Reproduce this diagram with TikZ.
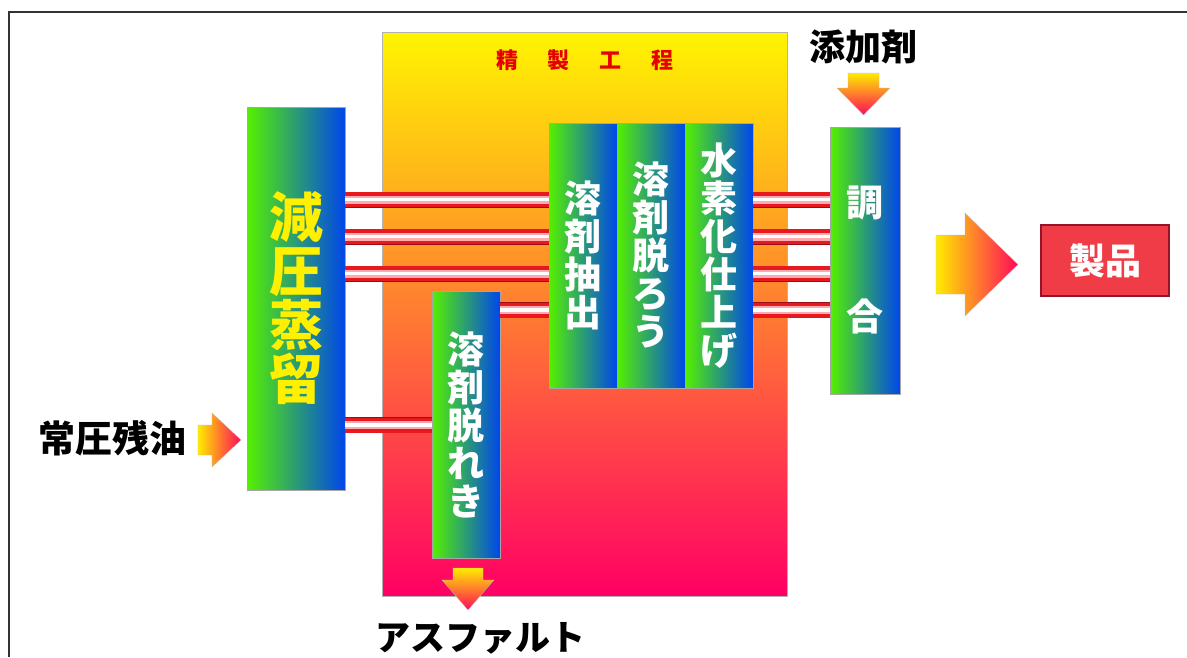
\documentclass[tikz,border=0pt]{standalone}
\usepackage{fontspec}
\newfontfamily\jp{Noto Sans CJK JP}
\definecolor{procgreen}{RGB}{85,240,0}
\definecolor{procblue}{RGB}{0,70,235}
\definecolor{bigtop}{RGB}{255,245,0}
\definecolor{bigmid}{RGB}{255,125,45}
\definecolor{bigbot}{RGB}{255,0,100}
\definecolor{pipered}{RGB}{230,25,30}
\definecolor{pipedark}{RGB}{160,10,20}
\definecolor{pipepink}{RGB}{255,170,175}
\definecolor{arrowyel}{RGB}{255,235,0}
\definecolor{arroworg}{RGB}{255,140,30}
\definecolor{arrowred}{RGB}{255,10,90}
\definecolor{titlered}{RGB}{230,0,0}
\definecolor{textyel}{RGB}{255,240,0}
\definecolor{prodred}{RGB}{240,60,70}
\definecolor{prodedge}{RGB}{150,20,40}
\begin{document}
\begin{tikzpicture}[x=1pt,y=-1pt,
  proc/.style={draw=black!35, line width=0.4pt, left color=procgreen, right color=procblue,
    inner sep=0pt, minimum width=68pt, minimum height=265pt, align=center,
    text=white, font=\jp\bfseries\fontsize{37}{38}\selectfont},
  pipe/.style={line width=15pt, draw=pipered,
    preaction={draw=pipedark, line width=16pt},
    postaction={draw=pipepink, line width=8pt},
    postaction={draw=white, line width=3.5pt}},
  blackcap/.style={text=black, font=\jp\bfseries\fontsize{37}{38}\selectfont, inner sep=0pt},
  arrowv/.style={draw=black!25, line width=0.3pt, top color=arrowyel, middle color=arroworg, bottom color=arrowred},
  arrowh/.style={draw=black!25, line width=0.3pt, left color=arrowyel, middle color=arroworg, right color=arrowred}
]
\useasboundingbox (0,0) rectangle (1187,657);
\fill[white] (0,0) rectangle (1187,657);
% frame
\draw[line width=2pt, black!80] (9,657) -- (9,12) -- (1187,12);

% big refining box
\node[draw=black!30, line width=0.4pt, top color=bigtop, middle color=bigmid, bottom color=bigbot,
  minimum width=405pt, minimum height=564pt, inner sep=0pt] (big) at (584.5,314) {};
\node[text=titlered, font=\jp\bfseries\fontsize{22}{24}\selectfont, inner sep=0pt] (title) at (585,60)
  {精\hspace{30pt}製\hspace{30pt}工\hspace{30pt}程};

% vacuum distillation
\node[proc, minimum width=98pt, minimum height=383pt, text=textyel,
  font=\jp\bfseries\fontsize{54}{54}\selectfont] (vac) at (296,298.5) {減\\圧\\蒸\\留};

% process boxes
\node[proc] (ext) at (583,255.5) {溶\\剤\\抽\\出};
\node[proc] (dew) at (651,255.5) {溶\\剤\\脱\\ろ\\う};
\node[proc] (hyd) at (719,255.5) {水\\素\\化\\仕\\上\\げ};
\node[proc, minimum height=267pt] (dea) at (466,424.5) {溶\\剤\\脱\\れ\\き};
\node[proc, minimum width=70pt, minimum height=267pt] (blend) at (865,260.5) {調\\[76pt]合};

% product
\node[draw=prodedge, line width=1.5pt, fill=prodred, minimum width=128pt, minimum height=71pt,
  text=white, font=\jp\bfseries\fontsize{36}{38}\selectfont, inner sep=0pt] (prod) at (1105,260.5) {製品};

% pipes
\foreach \yy in {199.5,236.5,273.5} {
  \draw[pipe] (vac.east |- 0,\yy) -- (ext.west |- 0,\yy);
}
\foreach \yy in {199.5,236.5,273.5,310} {
  \draw[pipe] (hyd.east |- 0,\yy) -- (blend.west |- 0,\yy);
}
\draw[pipe] (dea.east |- 0,310) -- (ext.west |- 0,310);
\draw[pipe] (vac.east |- 0,425) -- (dea.west |- 0,425);

% labels
\node[blackcap] (feed) at (112,438) {常圧残油};
\node[blackcap, font=\jp\bfseries\fontsize{36}{38}\selectfont] (add) at (863,47) {添加剤};
\node[blackcap, font=\jp\bfseries\fontsize{35}{36}\selectfont] (asph) at (480,638) {アスファルト};

% block arrows
\shade[arrowh] (198,425) -- (212,425) -- (212,413) -- (241,440) -- (212,467) -- (212,455) -- (198,455) -- cycle;
\shade[arrowv] (848,73) -- (879,73) -- (879,88) -- (890,88) -- (863.5,115) -- (837,88) -- (848,88) -- cycle;
\shade[arrowv] (453,568) -- (483,568) -- (483,580) -- (494,580) -- (468,610) -- (442,580) -- (453,580) -- cycle;
\shade[arrowh] (936,235) -- (965,235) -- (965,213) -- (1018,264.5) -- (965,316) -- (965,294) -- (936,294) -- cycle;
\end{tikzpicture}
\end{document}
